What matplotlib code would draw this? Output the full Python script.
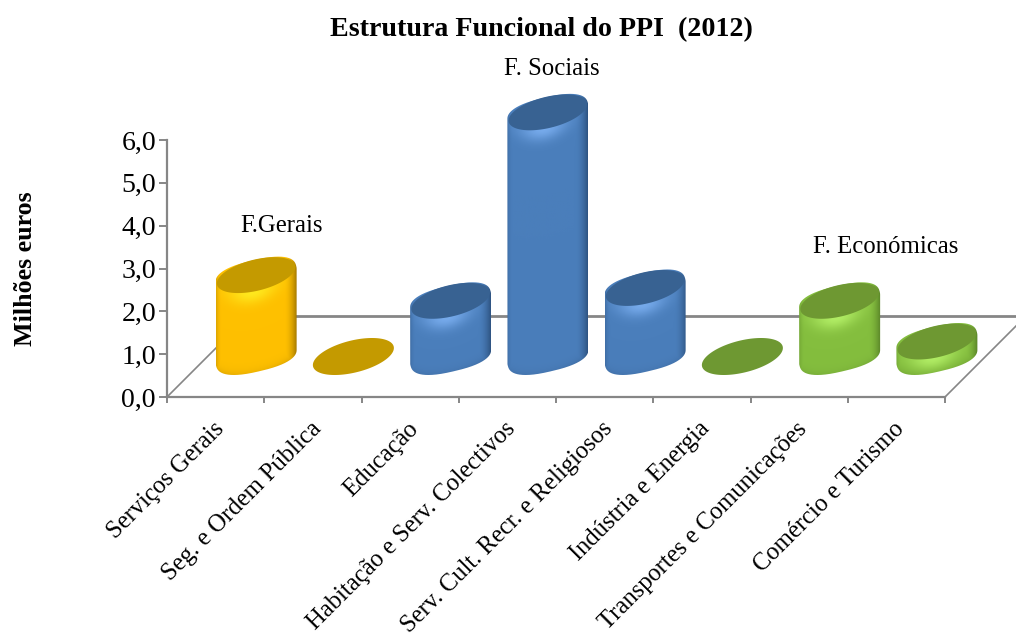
import numpy as np
import matplotlib.pyplot as plt
from matplotlib.path import Path
from matplotlib.patches import PathPatch
from matplotlib.ticker import FuncFormatter

categories = ['Serviços Gerais', 'Seg. e Ordem Pública', 'Educação', 'Habitação e Serv. Colectivos',
              'Serv. Cult. Recr. e Religiosos', 'Indústria e Energia', 'Transportes e Comunicações',
              'Comércio e Turismo']
values = [1.9, 0.0, 1.3, 5.7, 1.6, 0.0, 1.3, 0.35]
groups = ['gold', 'gold', 'blue', 'blue', 'blue', 'green', 'green', 'green']
y_ticks = [0, 1, 2, 3, 4, 5, 6]

# body, highlight, edge shadow, top face
palette = {
    'gold': ((255, 192, 0), (255, 232, 30), (150, 110, 0), (196, 154, 0)),
    'blue': ((74, 126, 187), (118, 170, 235), (42, 78, 122), (56, 98, 146)),
    'green': ((132, 190, 62), (176, 236, 100), (82, 122, 36), (110, 152, 50)),
}

plt.rcParams['font.family'] = ['Liberation Serif', 'DejaVu Serif']

W, H = 1016, 639
fig = plt.figure(figsize=(W / 100, H / 100), dpi=100)
ax = fig.add_axes([167 / W, 1 - 397 / H, (945 - 167) / W, (397 - 140) / H])
ax.set_xlim(0, 8)
ax.set_ylim(0, 6)
ax.patch.set_visible(False)

px_x = (945 - 167) / 8
px_y = (397 - 140) / 6
depth = 81
dx = depth / px_x
dy = depth / px_y
grey = '#868686'

# tilted ellipse of the cylinder ends, in pixels
a, b, theta = 41.5, 16.0, np.radians(14)
t = np.linspace(0, 2 * np.pi, 721)[:-1]


def end_shape(power=2.0):
    c, s = np.cos(t), np.sin(t)
    x0 = a * np.sign(c) * np.abs(c) ** (2 / power)
    y0 = b * np.sign(s) * np.abs(s) ** (2 / power)
    x1 = x0 * np.cos(theta) - y0 * np.sin(theta)
    y1 = x0 * np.sin(theta) + y0 * np.cos(theta)
    return x1 * 40.5 / np.abs(x1).max(), y1 * 18.5 / np.abs(y1).max()


ex, ey = end_shape()
bx, by = end_shape(2.5)


def split_sides(x, y):
    # outline from the right extreme over the top to the left extreme, then back under
    start = np.argmax(x)
    x, y = np.roll(x, -start), np.roll(y, -start)
    mid = np.argmin(x)
    return x[:mid + 1], y[:mid + 1], x[mid:], y[mid:]


def lower_edge(x_px):
    ux, uy, lx, ly = split_sides(ex, ey)
    return np.interp(x_px, lx, ly)


def body_path(cx, base, top):
    ux, uy, lx, ly = split_sides(bx, by)
    up = np.column_stack([cx + ux / px_x, top + uy / px_y])
    down = np.column_stack([cx + lx / px_x, base + ly / px_y])
    return Path(np.vstack([up, down]))


def draw_cylinder(i, value, group):
    body, light, shadow, face = palette[group]
    cx = i + 0.5 + dx / 2
    base = dy / 2
    top = base + value
    if value > 0:
        w_px = int(bx.max() - bx.min()) + 4
        h_px = int(value * px_y + 2 * by.max()) + 6
        xx = np.linspace(bx.min(), bx.max(), w_px)
        yy = np.linspace(-by.max() - 3, value * px_y + by.max() + 3, h_px)
        X, Y = np.meshgrid(xx, yy)
        u = (X - bx.min()) / (bx.max() - bx.min())
        low = lower_edge(X)
        d_top = (value * px_y + low) - Y
        d_base = Y - low
        col = np.array(body, float) * np.ones(X.shape + (3,))
        h = np.exp(-(d_top / 11.0) ** 2) * np.exp(-((u - 0.45) / 0.3) ** 2)
        s = np.clip((u - 0.84) / 0.16, 0, 1) ** 2 * 0.85
        s = np.maximum(s, np.clip((0.07 - u) / 0.07, 0, 1) ** 2 * 0.3)
        s = np.maximum(s, 0.3 * np.exp(-np.clip(d_base + 2, 0, None) / 4.0))
        col = col + (np.array(light, float) - col) * h[..., None]
        col = col + (np.array(shadow, float) - col) * s[..., None]
        im = ax.imshow(col / 255, extent=[cx + xx[0] / px_x, cx + xx[-1] / px_x,
                                          base + yy[0] / px_y, base + yy[-1] / px_y],
                       origin='lower', aspect='auto', zorder=3, interpolation='bilinear')
        clip = PathPatch(body_path(cx, base, top), transform=ax.transData)
        im.set_clip_path(clip)
        im.set_clip_box(fig.bbox)
        scale = 0.97
    else:
        scale = 1.0
    ring = np.column_stack([cx + scale * ex / px_x, top + scale * ey / px_y])
    ax.add_patch(PathPatch(Path(ring), facecolor=np.array(face) / 255,
                           edgecolor='none', zorder=4, clip_on=False))


# floor of the 3D box
ax.plot([0, dx], [0, dy], color=grey, lw=1.2, clip_on=False, zorder=1)
ax.plot([8, 8 + dx], [0, dy], color=grey, lw=1.2, clip_on=False, zorder=1)
ax.plot([dx, 8 + dx], [dy, dy], color=grey, lw=2, clip_on=False, zorder=1)

for i in range(len(categories)):
    draw_cylinder(i, values[i], groups[i])

ax.set_xlim(0, 8)
ax.set_ylim(0, 6)

for side in ['top', 'right']:
    ax.spines[side].set_visible(False)
for side in ['left', 'bottom']:
    ax.spines[side].set_color(grey)
    ax.spines[side].set_linewidth(1.6)

ax.set_yticks(y_ticks)
ax.yaxis.set_major_formatter(FuncFormatter(lambda v, p: '{:.1f}'.format(v).replace('.', ',')))
ax.tick_params(axis='y', colors=grey, labelcolor='black', length=6, width=1.4, labelsize=20, pad=2)
ax.set_xticks(np.arange(9))
ax.set_xticklabels([])
ax.tick_params(axis='x', which='major', color=grey, length=4, width=1.4)
ax.set_xticks(np.arange(8) + 0.47, minor=True)
ax.set_xticklabels(categories, minor=True, rotation=45, ha='right', va='top',
                   rotation_mode='anchor', fontsize=17.7)
ax.tick_params(axis='x', which='minor', length=0, pad=15)

fig.text(541 / W, 1 - 30 / H, 'Estrutura Funcional do PPI  (2012)', ha='center', va='center',
         fontsize=20.2, fontweight='bold')
fig.text(26 / W, 1 - 269 / H, 'Milhões euros', rotation=90, ha='center', va='center',
         fontsize=18.7, fontweight='bold')
fig.text(282 / W, 1 - 226 / H, 'F.Gerais', ha='center', va='center', fontsize=17.8)
fig.text(552 / W, 1 - 69 / H, 'F. Sociais', ha='center', va='center', fontsize=17.8)
fig.text(886 / W, 1 - 247 / H, 'F. Económicas', ha='center', va='center', fontsize=17.8)

fig.savefig('out.png', dpi=100)
plt.close()
